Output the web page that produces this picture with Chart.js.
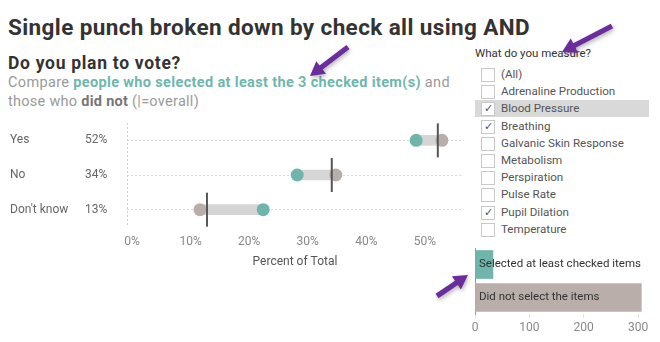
<!DOCTYPE html>
<html>
<head>
<meta charset="utf-8">
<script src="https://cdn.jsdelivr.net/npm/chart.js@4.4.1/dist/chart.umd.min.js"></script>
<style>
  body { margin: 0; background: #fff; font-family: Roboto, "Noto Sans", sans-serif; }
  #page { position: relative; width: 660px; height: 342px; overflow: hidden; }
  .abs { position: absolute; white-space: nowrap; }
  #title { left: 8px; top: 14px; font-size: 22.5px; line-height: 26px; font-weight: 700; color: #333; }
  #sub { left: 8px; top: 53px; font-size: 17.5px; line-height: 20px; font-weight: 700; color: #333; }
  .desc { left: 8px; font-size: 14.5px; line-height: 18px; color: #9a9a9a; }
  .desc .teal { color: #6fb7ad; font-weight: 700; }
  .desc .dark { color: #777; font-weight: 700; }
  #filterTitle { left: 475px; top: 47px; font-size: 11.5px; line-height: 13px; color: #333; }
  .item { position: absolute; left: 475px; width: 174px; height: 17px; font-size: 11.6px; line-height: 17px; color: #555; }
  .item.hl { background: #d9d9d9; }
  .box { position: absolute; left: 6px; top: 2px; width: 12px; height: 12px; border: 1px solid #c8c8c8; background: #fff; font-size: 11px; line-height: 12px; text-align: center; color: #555; }
  .item span.t { position: absolute; left: 26px; top: 0; }
  canvas { position: absolute; }
  #arrows { position: absolute; left: 0; top: 0; }
</style>
</head>
<body>
<div id="page">
  <div id="title" class="abs">Single punch broken down by check all using AND</div>
  <div id="sub" class="abs">Do you plan to vote?</div>
  <div id="desc1" class="abs desc" style="top:74px">Compare <span class="teal">people who selected at least the 3 checked item(s)</span> and</div>
  <div id="desc2" class="abs desc" style="top:93px">those who <span class="dark">did not</span> (|=overall)</div>
  <div id="filterTitle" class="abs">What do you measure?</div>
  <div id="filters"></div>
  <canvas id="dumbbell" width="470" height="275" style="left:0;top:0"></canvas>
  <canvas id="counts" width="200" height="102" style="left:460px;top:240px"></canvas>
  <svg id="arrows" width="660" height="342"></svg>
</div>
<script>
// vote answers and percent of total
const categories = ['Yes', 'No', "Don't know"];
const overallLabels = ['52%', '34%', '13%'];
const selectedPct = [48.5, 28.2, 22.4];
const notSelectedPct = [52.9, 34.8, 11.6];
const overallPct = [52.2, 34.1, 12.8];
const pctTicks = [0, 10, 20, 30, 40, 50];

// respondent counts
const groupLabels = ['Selected at least checked items', 'Did not select the items'];
const groupCounts = [33, 306];
const countTicks = [0, 100, 200, 300];

// filter list
const measures = ['(All)', 'Adrenaline Production', 'Blood Pressure', 'Breathing', 'Galvanic Skin Response',
  'Metabolism', 'Perspiration', 'Pulse Rate', 'Pupil Dilation', 'Temperature'];
const checked = [false, false, true, true, false, false, false, false, true, false];

const teal = '#6fb5ab';
const taupe = '#b9aea9';

Chart.defaults.font.family = 'Roboto';
Chart.defaults.animation = false;

// stretch header texts to the widths they have in the dashboard
function fitWidth(id, target) {
  const el = document.getElementById(id);
  const w = el.getBoundingClientRect().width;
  el.style.letterSpacing = ((target - w) / el.textContent.length) + 'px';
}
fitWidth('title', 522);
fitWidth('sub', 173);
fitWidth('desc1', 442);
fitWidth('desc2', 191);
fitWidth('filterTitle', 116);

// filter checkboxes
const filters = document.getElementById('filters');
measures.forEach((m, i) => {
  const row = document.createElement('div');
  row.className = 'item' + (i === 2 ? ' hl' : '');
  row.style.top = (66 + i * 17.2) + 'px';
  row.innerHTML = `<div class="box">${checked[i] ? '✓' : ''}</div><span class="t">${m}</span>`;
  filters.appendChild(row);
});

// row labels + dashed left edge
const rowLabels = {
  id: 'rowLabels',
  afterDraw(chart) {
    const ctx = chart.ctx;
    const y = chart.scales.y;
    const area = chart.chartArea;
    ctx.save();
    ctx.strokeStyle = '#cfcfcf';
    ctx.setLineDash([2, 2]);
    ctx.beginPath();
    ctx.moveTo(area.left + 0.5, area.top);
    ctx.lineTo(area.left + 0.5, area.bottom);
    ctx.stroke();
    ctx.font = '12px Roboto';
    ctx.fillStyle = '#666';
    ctx.textBaseline = 'middle';
    categories.forEach((c, i) => {
      const py = y.getPixelForValue(i);
      ctx.fillText(c, 10, py);
      ctx.fillText(overallLabels[i], 85, py);
    });
    ctx.restore();
  }
};

new Chart(document.getElementById('dumbbell'), {
  type: 'bar',
  data: {
    labels: categories,
    datasets: [
      {
        type: 'line', label: 'Overall', order: 0, showLine: false,
        data: overallPct.map((v, i) => ({ x: v, y: categories[i] })),
        pointStyle: 'line', rotation: 90, pointRadius: 17, pointBorderWidth: 2,
        pointBorderColor: '#555', pointBackgroundColor: '#555'
      },
      {
        type: 'line', label: 'Selected', order: 1, showLine: false,
        data: selectedPct.map((v, i) => ({ x: v, y: categories[i] })),
        pointRadius: 6.5, pointBorderWidth: 0, pointBackgroundColor: teal
      },
      {
        type: 'line', label: 'Did not', order: 1, showLine: false,
        data: notSelectedPct.map((v, i) => ({ x: v, y: categories[i] })),
        pointRadius: 6.5, pointBorderWidth: 0, pointBackgroundColor: taupe
      },
      {
        label: 'Gap', order: 2,
        data: categories.map((c, i) => [Math.min(selectedPct[i], notSelectedPct[i]), Math.max(selectedPct[i], notSelectedPct[i])]),
        backgroundColor: '#d5d5d5', barThickness: 10
      }
    ]
  },
  options: {
    responsive: false,
    indexAxis: 'y',
    layout: { autoPadding: false, padding: { left: 127, top: 123, right: 7, bottom: 0 } },
    plugins: { legend: { display: false }, tooltip: { enabled: false } },
    scales: {
      x: {
        min: -0.85, max: 56.5,
        afterBuildTicks: s => { s.ticks = pctTicks.map(v => ({ value: v })); },
        afterFit: s => { s.height = 48; },
        grid: { display: false, drawTicks: false },
        border: { display: false },
        ticks: { padding: 8, color: '#888', font: { size: 12 }, callback: v => v + '%' },
        title: { display: true, text: 'Percent of Total', color: '#555', font: { size: 12 }, padding: { top: 0, bottom: 6 } }
      },
      y: {
        afterFit: s => { s.width = 0; },
        ticks: { display: false },
        grid: { offset: false, color: '#dadada', drawTicks: false },
        border: { display: false, dash: [2, 2] }
      }
    }
  },
  plugins: [rowLabels]
});

// text inside count bars
const barText = {
  id: 'barText',
  afterDatasetsDraw(chart) {
    const ctx = chart.ctx;
    const y = chart.scales.y;
    ctx.save();
    ctx.font = '11.5px Roboto';
    ctx.fillStyle = '#333';
    ctx.textBaseline = 'middle';
    groupLabels.forEach((g, i) => ctx.fillText(g, chart.chartArea.left + 4, y.getPixelForValue(i)));
    ctx.restore();
  }
};

new Chart(document.getElementById('counts'), {
  type: 'bar',
  data: {
    labels: groupLabels,
    datasets: [{ data: groupCounts, backgroundColor: [teal, taupe], barThickness: 28 }]
  },
  options: {
    responsive: false,
    indexAxis: 'y',
    layout: { autoPadding: false, padding: { left: 15, top: 8, right: 10, bottom: 0 } },
    plugins: { legend: { display: false }, tooltip: { enabled: false } },
    scales: {
      x: {
        min: 0, max: 322,
        afterBuildTicks: s => { s.ticks = countTicks.map(v => ({ value: v })); },
        afterFit: s => { s.height = 28; },
        grid: { drawOnChartArea: false, tickLength: 4, color: '#e4e4e4' },
        border: { display: false },
        ticks: { padding: 3, color: '#888', font: { size: 12 } }
      },
      y: {
        afterFit: s => { s.width = 0; },
        ticks: { display: false },
        grid: { display: false, drawTicks: false },
        border: { display: true, color: '#999' }
      }
    }
  },
  plugins: [barText]
});

// purple annotation arrows
const arrows = [[348, 47, 310, 76], [612, 26, 562, 52], [437, 296, 468, 275]];
const svg = document.getElementById('arrows');
arrows.forEach(([x1, y1, x2, y2]) => {
  const dx = x2 - x1, dy = y2 - y1, len = Math.hypot(dx, dy);
  const ux = dx / len, uy = dy / len, nx = -uy, ny = ux;
  const hl = 14, hw = 8, sw = 2.6;
  const bx = x2 - ux * hl, by = y2 - uy * hl;
  const pts = [
    [x1 + nx * sw, y1 + ny * sw], [bx + nx * sw, by + ny * sw], [bx + nx * hw, by + ny * hw],
    [x2, y2], [bx - nx * hw, by - ny * hw], [bx - nx * sw, by - ny * sw], [x1 - nx * sw, y1 - ny * sw]
  ];
  const p = document.createElementNS('http://www.w3.org/2000/svg', 'polygon');
  p.setAttribute('points', pts.map(q => q.join(',')).join(' '));
  p.setAttribute('fill', '#6b2c9c');
  p.setAttribute('style', 'filter: drop-shadow(1px 2px 2px rgba(0,0,0,0.3))');
  svg.appendChild(p);
});
</script>
</body>
</html>
